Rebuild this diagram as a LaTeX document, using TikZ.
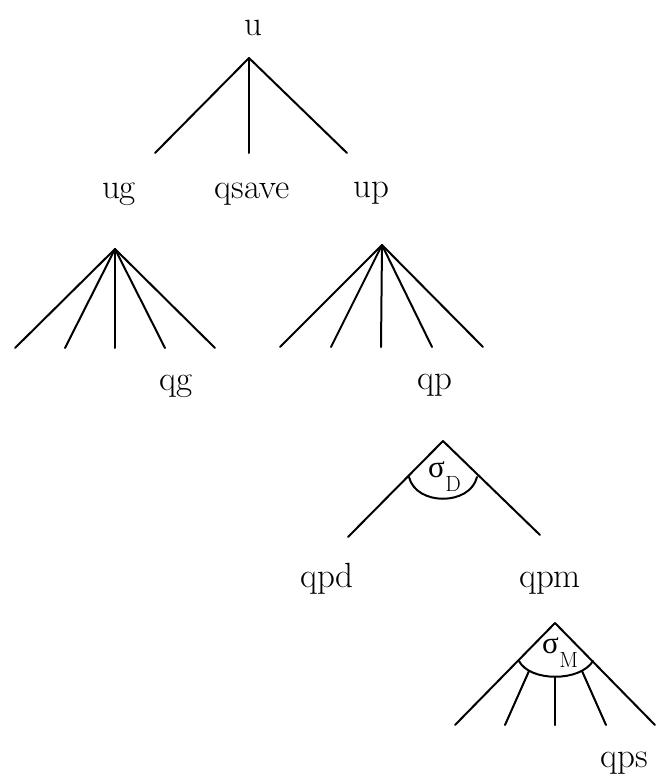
\documentclass[tikz,border=0pt]{standalone}
\usepackage{fontspec}
\newfontfamily\grk{Liberation Serif}
\newcommand{\sigmalbl}[1]{{\grk σ}\kern0.5pt\raisebox{-14pt}{\fontsize{22}{24}\selectfont #1}}
\begin{document}
\begin{tikzpicture}[x=1pt,y=-1pt,
  edge/.style={line width=2pt,line cap=round,line join=round},
  lbl/.style={inner sep=0pt,anchor=base,font=\fontsize{35}{40}\selectfont},
  sig/.style={inner sep=0pt,anchor=base west,font=\fontsize{31}{34}\selectfont}]
\useasboundingbox (0,0) rectangle (657,777);

% top level: u with three children
\node[lbl] (u) at (253,35) {u};
\coordinate (uA) at (249,58);
\coordinate (u1) at (155,153);
\coordinate (u2) at (249,153);
\coordinate (u3) at (347,153);
\foreach \e in {u1,u2,u3} \draw[edge] (uA) -- (\e);
\node[lbl] (ug) at (119,198) {ug};
\node[lbl] (qsave) at (252,198) {qsave};
\node[lbl] (up) at (371,197) {up};

% fan under ug
\coordinate (gA) at (115,249);
\foreach \x [count=\i] in {15,65,115,165,215} \coordinate (g\i) at (\x,348);
\foreach \i in {1,...,5} \draw[edge] (gA) -- (g\i);
\node[lbl] (qg) at (176,390) {qg};

% fan under up
\coordinate (pA) at (382,245);
\foreach \x [count=\i] in {280,331,381,432,483} \coordinate (p\i) at (\x,347);
\foreach \i in {1,...,5} \draw[edge] (pA) -- (p\i);
\node[lbl] (qp) at (435,389) {qp};

% sigma_D split of qp
\coordinate (dA) at (443,441);
\coordinate (d1) at (348,537);
\coordinate (d2) at (540,535);
\coordinate (dL) at (409,477);
\coordinate (dR) at (477,477);
\draw[edge] (dA) -- (d1);
\draw[edge] (dA) -- (d2);
\draw[edge] (dL) .. controls (416,506) and (470,506) .. (dR);
\node[sig] (sD) at (428,477) {\sigmalbl{D}};
\node[lbl] (qpd) at (327,587) {qpd};
\node[lbl] (qpm) at (550,587) {qpm};

% sigma_M split of qpm
\coordinate (mA) at (555,623);
\coordinate (m1) at (455,725);
\coordinate (m5) at (655,725);
\coordinate (mL) at (519,661);
\coordinate (mR) at (593,661);
\coordinate (m2s) at (529,671);
\coordinate (m3s) at (555,677);
\coordinate (m4s) at (582,671);
\coordinate (m2) at (505,725);
\coordinate (m3) at (555,725);
\coordinate (m4) at (606,725);
\draw[edge] (mA) -- (m1);
\draw[edge] (mA) -- (m5);
\draw[edge] (mL) .. controls (530,682) and (580,682) .. (mR);
\draw[edge] (m2s) -- (m2);
\draw[edge] (m3s) -- (m3);
\draw[edge] (m4s) -- (m4);
\node[sig] (sM) at (542,653) {\sigmalbl{M}};
\node[lbl] (qps) at (624,767) {qps};
\end{tikzpicture}
\end{document}
